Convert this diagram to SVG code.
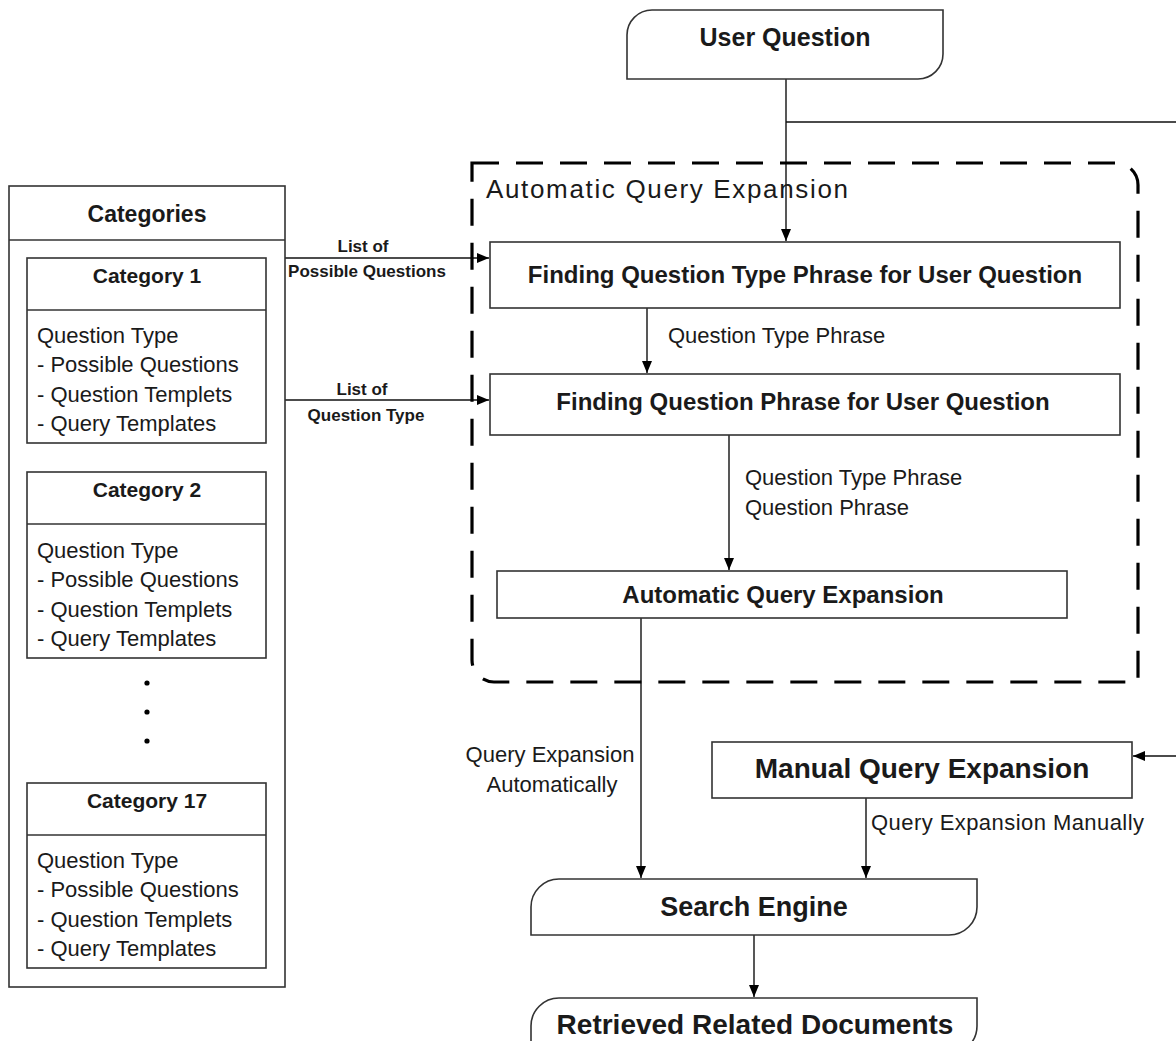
<svg xmlns="http://www.w3.org/2000/svg" width="1176" height="1041" viewBox="0 0 1176 1041">
<style>
.box{fill:#fff;stroke:#333;stroke-width:1.6}
.ln{fill:none;stroke:#111;stroke-width:1.4}
.dash{fill:none;stroke:#000;stroke-width:3.2;stroke-dasharray:27 17}
text{font-family:"Liberation Sans",Arial,sans-serif;fill:#1a1a1a}
.b{font-weight:bold}
.c{text-anchor:middle}
.r22{font-size:22px}
.lab{font-size:17px;font-weight:bold;text-anchor:middle}
</style>
<defs>
<marker id="ah" markerUnits="userSpaceOnUse" markerWidth="12" markerHeight="10" refX="12" refY="5" orient="auto">
<path d="M0,0 L12,5 L0,10 Z" fill="#000"/>
</marker>
</defs>
<rect width="1176" height="1041" fill="#fff"/>

<g id="connectors">
<path class="ln" d="M786,79 V241" marker-end="url(#ah)"/>
<path class="ln" d="M786,122 H1195 V756 H1133" marker-end="url(#ah)"/>
<path class="ln" d="M285,258 H489" marker-end="url(#ah)"/>
<path class="ln" d="M285,400 H489" marker-end="url(#ah)"/>
<path class="ln" d="M647,308 V373" marker-end="url(#ah)"/>
<path class="ln" d="M729,435 V570" marker-end="url(#ah)"/>
<path class="ln" d="M641,618 V878" marker-end="url(#ah)"/>
<path class="ln" d="M866,798 V878" marker-end="url(#ah)"/>
<path class="ln" d="M754,935 V997" marker-end="url(#ah)"/>
<text class="lab" x="363" y="252">List of</text>
<text class="lab" x="367" y="277">Possible Questions</text>
<text class="lab" x="362" y="395">List of</text>
<text class="lab" x="366" y="421">Question Type</text>
<text class="r22" x="668" y="343">Question Type Phrase</text>
<text class="r22" x="745" y="485">Question Type Phrase</text>
<text class="r22" x="745" y="515">Question Phrase</text>
<text class="r22 c" x="550" y="762">Query Expansion</text>
<text class="r22 c" x="552" y="792">Automatically</text>
<text class="r22" x="871" y="830" textLength="273">Query Expansion Manually</text>
</g>

<g id="aqe-group">
<path class="dash" d="M472,163 H1116 A22,22 0 0 1 1138,185 V682 H494 A22,22 0 0 1 472,660 Z"/>
<text x="486" y="198" font-size="26" textLength="362">Automatic Query Expansion</text>
</g>

<g id="user-question">
<path class="box" d="M652,10 H943 V54 A25,25 0 0 1 918,79 H627 V35 A25,25 0 0 1 652,10 Z"/>
<text class="b c" x="785" y="46" font-size="25">User Question</text>
</g>

<g id="categories">
<rect class="box" x="9" y="186" width="276" height="801"/>
<line class="box" x1="9" y1="240" x2="285" y2="240"/>
<text class="b c" x="147" y="222" font-size="23">Categories</text>
</g>

<g id="category-1">
<rect class="box" x="27" y="258" width="239" height="185"/>
<line class="box" x1="27" y1="310" x2="266" y2="310"/>
<text class="b c" x="147" y="283" font-size="21">Category 1</text>
<text class="r22" x="37" y="343">Question Type</text>
<text class="r22" x="37" y="372">- Possible Questions</text>
<text class="r22" x="37" y="402">- Question Templets</text>
<text class="r22" x="37" y="431">- Query Templates</text>
</g>

<g id="category-2">
<rect class="box" x="27" y="472" width="239" height="186"/>
<line class="box" x1="27" y1="524" x2="266" y2="524"/>
<text class="b c" x="147" y="497" font-size="21">Category 2</text>
<text class="r22" x="37" y="558">Question Type</text>
<text class="r22" x="37" y="587">- Possible Questions</text>
<text class="r22" x="37" y="617">- Question Templets</text>
<text class="r22" x="37" y="646">- Query Templates</text>
</g>

<g id="dots">
<circle cx="147" cy="683" r="2.6" fill="#000"/>
<circle cx="147" cy="712" r="2.6" fill="#000"/>
<circle cx="147" cy="741" r="2.6" fill="#000"/>
</g>

<g id="category-17">
<rect class="box" x="27" y="783" width="239" height="185"/>
<line class="box" x1="27" y1="835" x2="266" y2="835"/>
<text class="b c" x="147" y="808" font-size="21">Category 17</text>
<text class="r22" x="37" y="868">Question Type</text>
<text class="r22" x="37" y="897">- Possible Questions</text>
<text class="r22" x="37" y="927">- Question Templets</text>
<text class="r22" x="37" y="956">- Query Templates</text>
</g>

<g id="finding-type">
<rect class="box" x="490" y="242" width="630" height="66"/>
<text class="b c" x="805" y="283" font-size="24">Finding Question Type Phrase for User Question</text>
</g>

<g id="finding-phrase">
<rect class="box" x="490" y="374" width="630" height="61"/>
<text class="b c" x="803" y="410" font-size="24">Finding Question Phrase for User Question</text>
</g>

<g id="auto-qe">
<rect class="box" x="497" y="571" width="570" height="47"/>
<text class="b c" x="783" y="603" font-size="24">Automatic Query Expansion</text>
</g>

<g id="manual-qe">
<rect class="box" x="712" y="742" width="420" height="56"/>
<text class="b c" x="922" y="778" font-size="28">Manual Query Expansion</text>
</g>

<g id="search-engine">
<path class="box" d="M559,879 H977 V907 A28,28 0 0 1 949,935 H531 V907 A28,28 0 0 1 559,879 Z"/>
<text class="b c" x="754" y="916" font-size="27">Search Engine</text>
</g>

<g id="retrieved">
<path class="box" d="M559,998 H977 V1026 A28,28 0 0 1 949,1054 H531 V1026 A28,28 0 0 1 559,998 Z"/>
<text class="b c" x="755" y="1034" font-size="28">Retrieved Related Documents</text>
</g>
</svg>
